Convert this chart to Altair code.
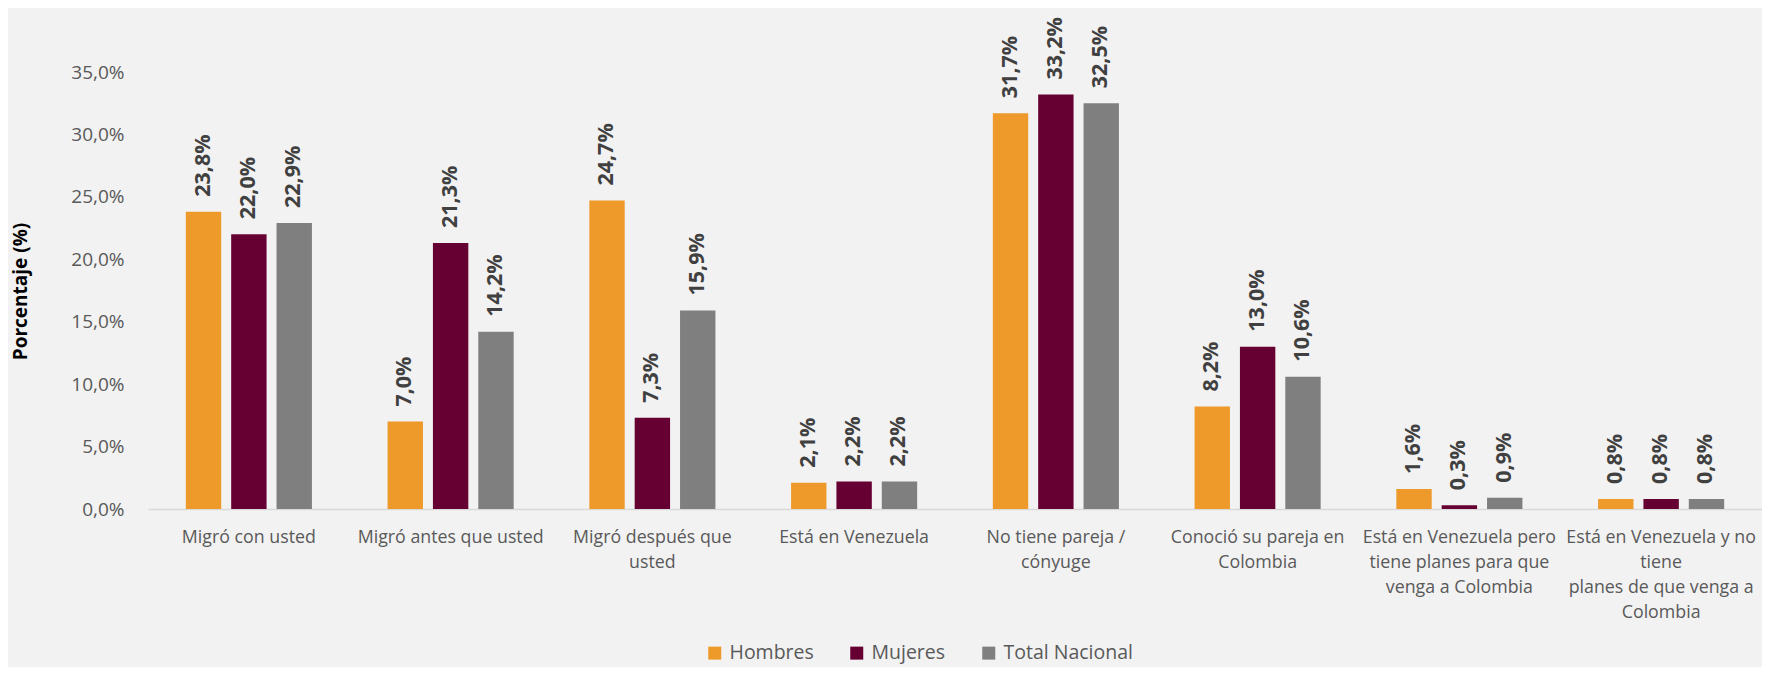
import altair as alt
import pandas as pd

categories = [
    "Migró con usted",
    "Migró antes que usted",
    "Migró después que\nusted",
    "Está en Venezuela",
    "No tiene pareja /\ncónyuge",
    "Conoció su pareja en\nColombia",
    "Está en Venezuela pero\ntiene planes para que\nvenga a Colombia",
    "Está en Venezuela y no\ntiene\nplanes de que venga a\nColombia",
]
series = ["Hombres", "Mujeres", "Total Nacional"]
hombres = [23.8, 7.0, 24.7, 2.1, 31.7, 8.2, 1.6, 0.8]
mujeres = [22.0, 21.3, 7.3, 2.2, 33.2, 13.0, 0.3, 0.8]
total_nacional = [22.9, 14.2, 15.9, 2.2, 32.5, 10.6, 0.9, 0.8]
colors = ["#EE9A2B", "#660033", "#7F7F7F"]
y_ticks = [0, 5, 10, 15, 20, 25, 30, 35]

rows = []
for s, vals in zip(series, [hombres, mujeres, total_nacional]):
    for c, v in zip(categories, vals):
        rows.append({"categoria": c, "serie": s, "valor": v})
df = pd.DataFrame(rows)

FONT = "Open Sans"

x_enc = alt.X(
    "categoria:N",
    sort=categories,
    scale=alt.Scale(paddingInner=0.375, paddingOuter=0.1875),
    axis=alt.Axis(
        title=None,
        labelAngle=0,
        labelExpr="split(datum.label, '\\n')",
        labelFont=FONT,
        labelFontSize=17.8,
        labelColor="#595959",
        labelLineHeight=25,
        labelPadding=19,
        labelLimit=0,
        labelOverlap=False,
        ticks=False,
        domainColor="#D9D9D9",
        domainWidth=1.5,
    ),
)
xoff_enc = alt.XOffset(
    "serie:N", sort=series, scale=alt.Scale(paddingInner=0.22, paddingOuter=0)
)
y_enc = alt.Y(
    "valor:Q",
    scale=alt.Scale(domain=[0, 35], nice=False),
    axis=alt.Axis(
        values=y_ticks,
        labelExpr="replace(format(datum.value, '.1f'), '.', ',') + '%'",
        grid=False,
        domain=False,
        ticks=False,
        labelPadding=24,
        labelFont=FONT,
        labelFontSize=19,
        labelColor="#595959",
        title="Porcentaje (%)",
        titleFont=FONT,
        titleFontSize=19,
        titleFontWeight="bold",
        titleColor="#000000",
        titleX=-128,
        titleY=219,
        titleAngle=270,
        titleAlign="center",
        titleBaseline="middle",
    ),
)
color_enc = alt.Color(
    "serie:N",
    sort=series,
    scale=alt.Scale(domain=series, range=colors),
    legend=alt.Legend(
        orient="none",
        legendX=557,
        legendY=571,
        direction="horizontal",
        title=None,
        symbolType="square",
        symbolSize=169,
        symbolStrokeWidth=0,
        symbolOpacity=1,
        labelFont=FONT,
        labelFontSize=19.5,
        labelColor="#595959",
        columnPadding=33,
        labelOffset=5,
    ),
)

base = alt.Chart(df).encode(x=x_enc, xOffset=xoff_enc, y=y_enc)

bars = base.mark_bar().encode(color=color_enc)

labels = base.transform_calculate(
    etiqueta="replace(format(datum.valor, '.1f'), '.', ',') + '%'"
).mark_text(
    angle=270,
    align="left",
    baseline="middle",
    dx=15,
    font=FONT,
    fontSize=21.5,
    fontWeight="bold",
    color="#404040",
).encode(text="etiqueta:N")

chart = (
    alt.layer(bars, labels)
    .properties(
        width=1614,
        height=437,
        background="#F2F2F2",
        autosize=alt.AutoSizeParams(type="none"),
        padding={"left": 140, "top": 64, "right": 0, "bottom": 158},
    )
    .configure_view(strokeWidth=0)
)

chart.save("out.html", embed_options={"renderer": "svg", "actions": False})
